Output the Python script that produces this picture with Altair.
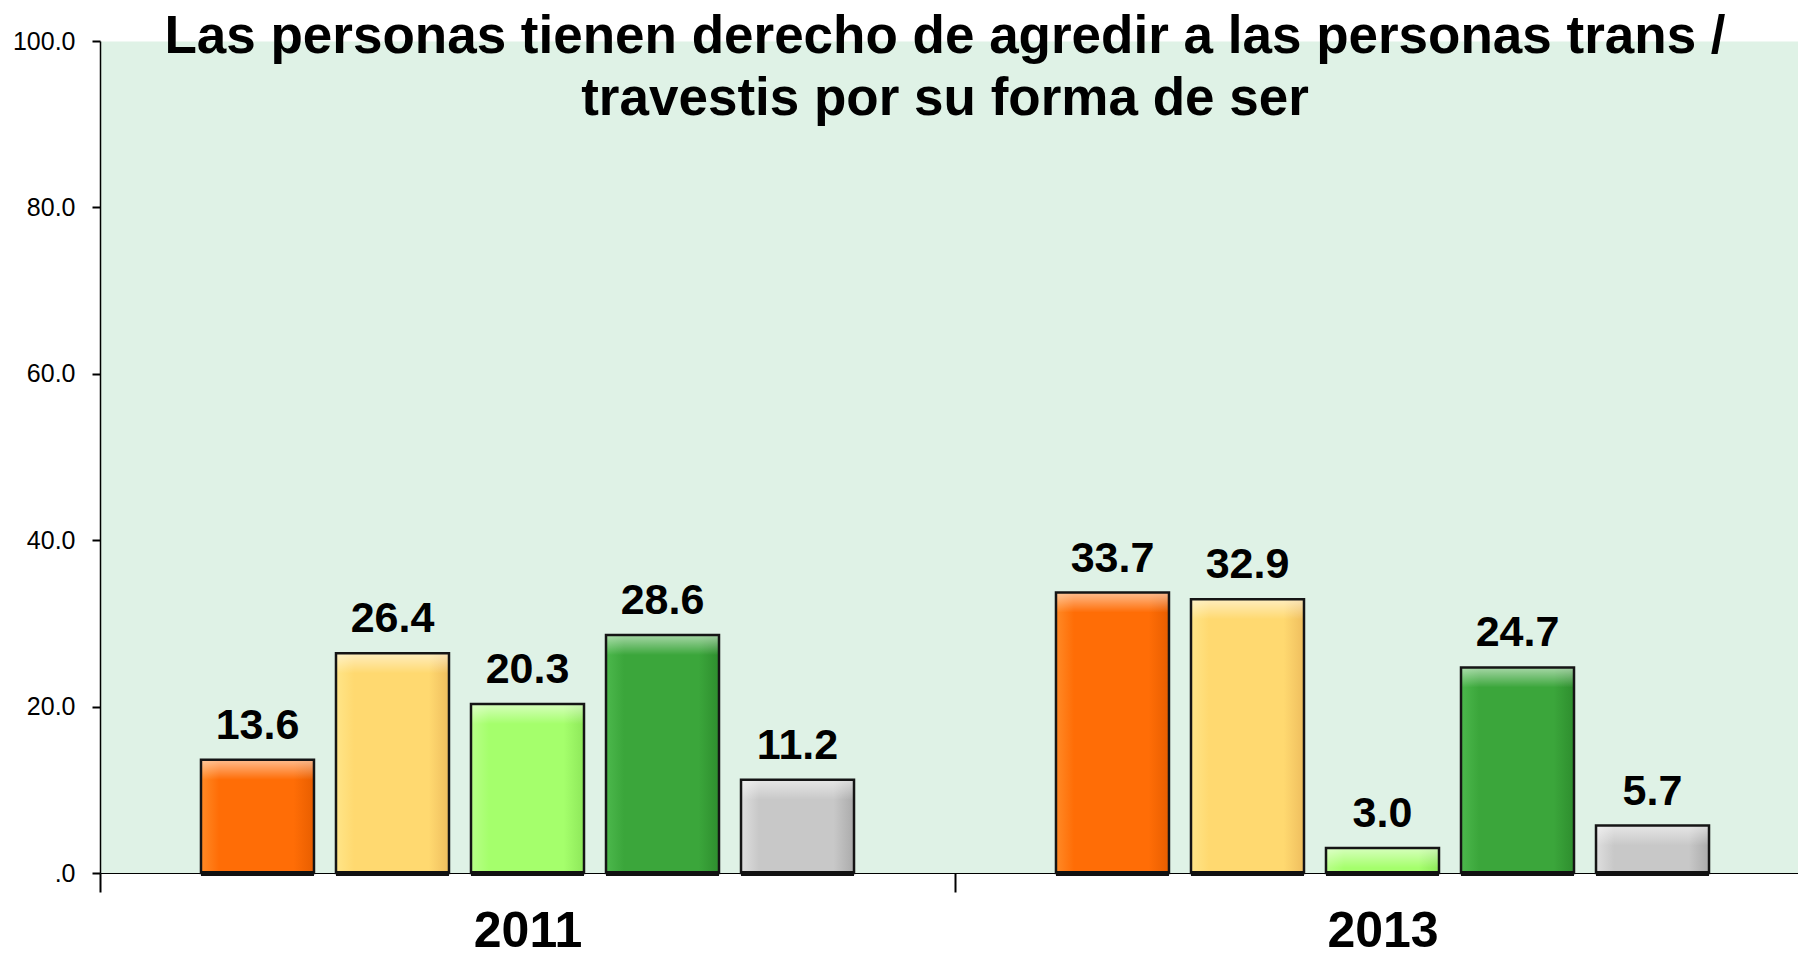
import altair as alt
import pandas as pd

years = ["2011", "2013"]
series = ["Muy de acuerdo", "De acuerdo", "En desacuerdo", "Muy en desacuerdo", "Ns/Nc"]
values_2011 = [13.6, 26.4, 20.3, 28.6, 11.2]
values_2013 = [33.7, 32.9, 3.0, 24.7, 5.7]
title_lines = ["Las personas tienen derecho de agredir a las personas trans /",
               "travestis por su forma de ser"]
y_ticks = [0, 20, 40, 60, 80, 100]

# (left, middle, right) shades of each series
shades = [
    ("#FF8A26", "#FF6D06", "#E85E00"),
    ("#FFE588", "#FFD970", "#EFBE5E"),
    ("#B8FF88", "#A5FF6C", "#8EE85A"),
    ("#4CB84C", "#3BA63B", "#2E8E2E"),
    ("#DEDEDE", "#C8C8C8", "#ABABAB"),
]

rows = []
for yr, vals in zip(years, [values_2011, values_2013]):
    for s, v in zip(series, vals):
        rows.append({"year": yr, "serie": s, "valor": v})
df = pd.DataFrame(rows)

SANS = "Liberation Sans, Arial, sans-serif"


def x_enc():
    return alt.X(
        "year:N",
        scale=alt.Scale(domain=years, range=[0, 1710], paddingInner=0, paddingOuter=0),
        axis=alt.Axis(title=None, labelAngle=0, tickBand="extent", tickSize=19,
                      tickWidth=2, tickColor="black", labelPadding=14,
                      labelFont=SANS, labelFontSize=50, labelFontWeight="bold",
                      labelColor="black", domainColor="black", domainWidth=1),
    )


def xo_enc():
    return alt.XOffset("serie:N",
                       scale=alt.Scale(domain=series, paddingInner=0.163, paddingOuter=0.748))


def y_enc():
    return alt.Y(
        "valor:Q",
        scale=alt.Scale(domain=[0, 100], nice=False),
        axis=alt.Axis(values=y_ticks, title=None, grid=False, tickSize=8, tickWidth=2,
                      tickColor="black", labelPadding=17,
                      labelExpr="datum.value == 0 ? '.0' : format(datum.value, '.1f')",
                      labelFont=SANS, labelFontSize=25, labelColor="black",
                      domainColor="black", domainWidth=1.5),
    )


base = alt.Chart(df)
layers = []
for s, (l, m, r) in zip(series, shades):
    grad = alt.LinearGradient(
        gradient="linear", x1=0, x2=1, y1=0, y2=0,
        stops=[alt.GradientStop(offset=0, color=l),
               alt.GradientStop(offset=0.16, color=m),
               alt.GradientStop(offset=0.82, color=m),
               alt.GradientStop(offset=1, color=r)],
    )
    layers.append(
        base.transform_filter(alt.datum.serie == s)
        .mark_bar(color=grad)
        .encode(x=x_enc(), xOffset=xo_enc(), y=y_enc())
    )

# top bevel highlight
highlight = alt.LinearGradient(
    gradient="linear", x1=0, x2=0, y1=0, y2=1,
    stops=[alt.GradientStop(offset=0, color="rgba(255,255,255,0.55)"),
           alt.GradientStop(offset=1, color="rgba(255,255,255,0)")],
)
layers.append(
    base.mark_bar(color=highlight, y2Offset=20)
    .encode(x=x_enc(), xOffset=xo_enc(), y=y_enc(), y2=alt.Y2("valor:Q"))
)

# outline
layers.append(
    base.mark_bar(fillOpacity=0, stroke="#151515", strokeWidth=2.5)
    .encode(x=x_enc(), xOffset=xo_enc(), y=y_enc())
)

# thick dark base of each bar
layers.append(
    base.mark_bar(color="#111111")
    .encode(x=x_enc(), xOffset=xo_enc(), y=alt.value(830), y2=alt.value(835))
)

layers.append(
    base.mark_text(baseline="alphabetic", dy=-21, fontSize=43, font=SANS,
                   fontWeight="bold", color="black")
    .encode(x=x_enc(), xOffset=xo_enc(), y=y_enc(),
            text=alt.Text("valor:Q", format=".1f"))
)

title_layer = alt.Chart(pd.DataFrame({"k": [0]})).mark_text(
    text=title_lines, fontSize=53, font=SANS, fontWeight="bold", color="black",
    baseline="alphabetic", align="center", lineHeight=62,
).encode(x=alt.value(845), y=alt.value(12))
layers.append(title_layer)

chart = alt.layer(*layers).properties(
    width=1698, height=832,
    autosize=alt.AutoSizeParams(type="none"),
    padding={"left": 92, "top": 33, "right": 0, "bottom": 84},
).configure_view(fill="#DFF2E6", stroke="transparent")

chart.save("out.html", embed_options={"renderer": "svg", "actions": False})
